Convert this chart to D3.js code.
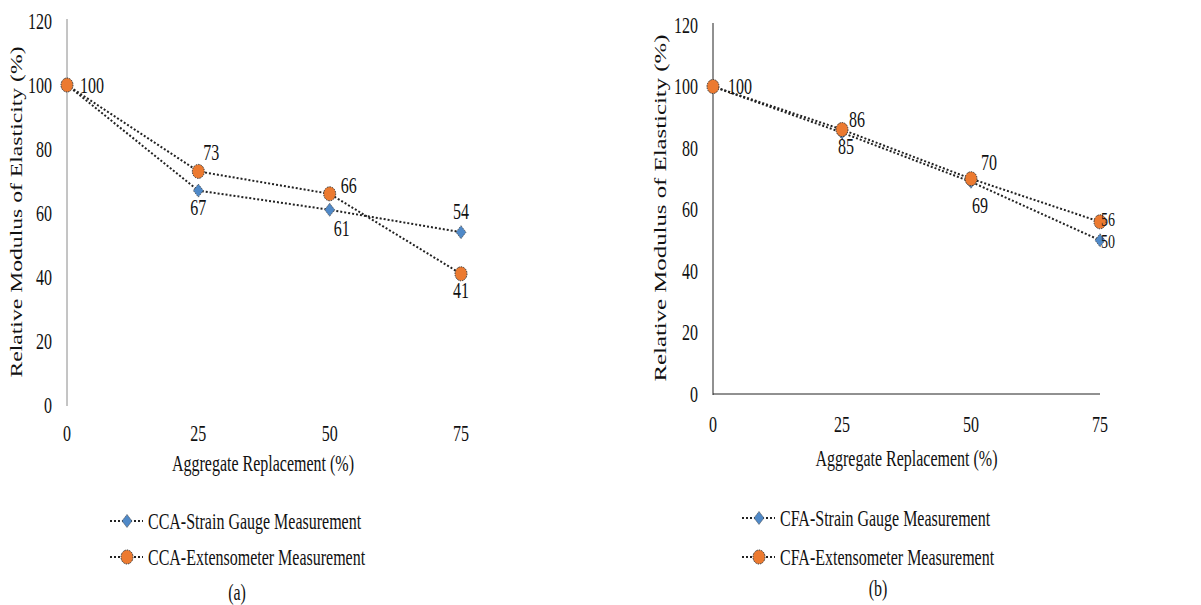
<!DOCTYPE html>
<html><head><meta charset="utf-8">
<script src="https://cdn.jsdelivr.net/npm/d3@7"></script>
<style>html,body{margin:0;padding:0;background:#fff;} svg{display:block;}</style>
</head><body>
<svg id="chart" width="1201" height="605"></svg>
<script>
// ---------- data ----------
const categories = [0, 25, 50, 75];
const yTicks = [0, 20, 40, 60, 80, 100, 120];
const ccaStrain = [100, 67, 61, 54];
const ccaExtenso = [100, 73, 66, 41];
const cfaStrain = [100, 85, 69, 50];
const cfaExtenso = [100, 86, 70, 56];
const ccaNames = ["CCA-Strain Gauge Measurement", "CCA-Extensometer Measurement"];
const cfaNames = ["CFA-Strain Gauge Measurement", "CFA-Extensometer Measurement"];
const xTitle = "Aggregate Replacement (%)";
const yTitle = "Relative Modulus of Elasticity (%)";

// ---------- drawing ----------
const svg = d3.select("#chart");
const FONT = "'Liberation Serif','Times New Roman',serif";
const BLUE = "#4f89c8", ORANGE = "#ec7a30";
const SY = 1.38;

function stext(g, x, y, str, o = {}) {
  const size = o.size || 16;
  let tr = `translate(${x},${y})`;
  if (o.rotate) tr += ` rotate(${o.rotate}) scale(${o.sx || SY},1)`;
  else tr += ` scale(1,${SY})`;
  return g.append("text").attr("transform", tr)
    .attr("font-family", FONT).attr("font-size", size)
    .attr("fill", "#111").attr("text-anchor", o.anchor || "middle")
    .attr("dy", "0.35em").text(str);
}

function marker(g, kind, x, y) {
  if (kind === "circle") {
    g.append("ellipse").attr("cx", x).attr("cy", y).attr("rx", 6).attr("ry", 7)
      .attr("fill", ORANGE).attr("stroke", "#333").attr("stroke-width", 1)
      .attr("stroke-dasharray", "1.5,1");
  } else {
    const w = 5, h = 6.5;
    g.append("path").attr("d", `M${x},${y-h}L${x+w},${y}L${x},${y+h}L${x-w},${y}Z`)
      .attr("fill", BLUE).attr("stroke", "#444").attr("stroke-width", 0.8)
      .attr("stroke-dasharray", "1.5,1");
  }
}

function panel(cfg) {
  const g = svg.append("g");
  const x = d3.scaleLinear().domain([0, 75]).range([cfg.x0, cfg.x1]);
  const y = d3.scaleLinear().domain([0, 120]).range([cfg.y0, cfg.y1]);

  g.append("line").attr("x1", cfg.x0).attr("x2", cfg.x0)
    .attr("y1", y(120) - 2).attr("y2", y(0) + 1)
    .attr("stroke", cfg.axisColor).attr("stroke-width", 1);
  if (cfg.xAxisLine) {
    g.append("line").attr("x1", cfg.x0).attr("x2", cfg.x1)
      .attr("y1", y(0)).attr("y2", y(0))
      .attr("stroke", cfg.axisColor).attr("stroke-width", 1);
  }
  yTicks.forEach(t => stext(g, cfg.x0 - cfg.tickGap, y(t), String(t), {anchor: "end"}));
  categories.forEach(c => stext(g, x(c), cfg.xLabelY, String(c)));
  stext(g, (cfg.x0 + cfg.x1) / 2 - cfg.xTitleShift, cfg.xTitleY, xTitle);
  stext(g, cfg.yTitleX, cfg.yTitleCY, yTitle, {rotate: -90, sx: cfg.yTitleSX});

  const line = d3.line().x((d, i) => x(categories[i])).y(d => y(d));
  cfg.series.forEach(s => {
    g.append("path").datum(s.values).attr("d", line).attr("fill", "none")
      .attr("stroke", "#222").attr("stroke-width", 2).attr("stroke-dasharray", "2,2");
  });
  cfg.series.forEach(s => {
    s.values.forEach((v, i) => marker(g, s.kind, x(categories[i]), y(v)));
  });
  cfg.series.forEach(s => {
    s.values.forEach((v, i) => {
      const off = s.labelOff[i];
      if (!off) return;
      stext(g, x(categories[i]) + off[0], y(v) + off[1], String(v),
        {anchor: off[2] || "middle", size: off[3] || 16});
    });
  });

  cfg.series.forEach((s, k) => {
    const ly = cfg.legendY[k];
    g.append("line").attr("x1", cfg.legX0).attr("x2", cfg.legX0 + 33)
      .attr("y1", ly).attr("y2", ly).attr("stroke", "#222").attr("stroke-width", 2)
      .attr("stroke-dasharray", "2,2");
    marker(g, s.kind, cfg.legX0 + 17, ly);
    stext(g, cfg.legX0 + 38, ly, s.name, {anchor: "start"});
  });
  stext(g, cfg.capX, cfg.capY, cfg.caption);
}

panel({
  x0: 67, x1: 461, y0: 405, y1: 21, axisColor: "#8a8a8a", xAxisLine: false,
  tickGap: 15, xLabelY: 433, xTitleY: 463, xTitleShift: 1,
  yTitleX: 16, yTitleCY: 212, yTitleSX: 1.48,
  legX0: 110, legendY: [521, 557], capX: 237, capY: 592, caption: "(a)",
  series: [
    {name: ccaNames[0], values: ccaStrain, kind: "diamond",
     labelOff: [null, [0, 17], [12, 18], [0, -21]]},
    {name: ccaNames[1], values: ccaExtenso, kind: "circle",
     labelOff: [[13, 0, "start"], [13, -19], [19, -9], [0, 16]]}
  ]
});

panel({
  x0: 713, x1: 1100, y0: 394, y1: 25, axisColor: "#222", xAxisLine: true,
  tickGap: 15, xLabelY: 424, xTitleY: 458, xTitleShift: 0,
  yTitleX: 660, yTitleCY: 208, yTitleSX: 1.55,
  legX0: 742, legendY: [518, 557], capX: 878, capY: 588, caption: "(b)",
  series: [
    {name: cfaNames[0], values: cfaStrain, kind: "diamond",
     labelOff: [null, [4, 14], [9, 23], [1, 1, "start", 14]]},
    {name: cfaNames[1], values: cfaExtenso, kind: "circle",
     labelOff: [[15, 0, "start"], [15, -10], [18, -16], [1, -3, "start", 14]]}
  ]
});
</script>
</body></html>
